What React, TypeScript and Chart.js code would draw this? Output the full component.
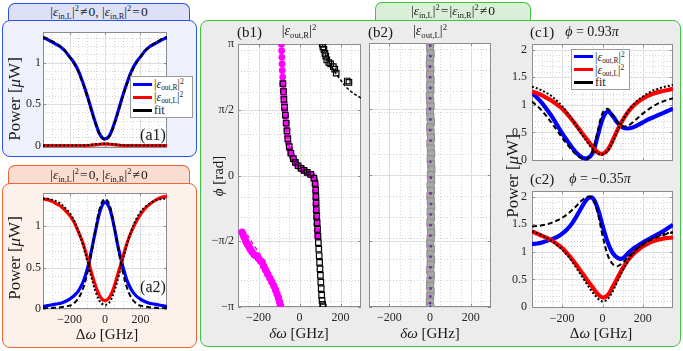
import React, { useEffect, useRef } from "react";
import { Chart, registerables } from "chart.js";
Chart.register(...registerables);

const SERIF = "'Liberation Serif', 'Times New Roman', serif";

// ---------- data ----------
const DW = [-350, -325, -300, -275, -250, -225, -200, -175, -150, -125, -100, -75, -50, -25, 0, 25, 50, 75, 100, 125, 150, 175, 200, 225, 250, 275, 300, 325, 350];

const A1_OUT_R = [1.30, 1.28, 1.25, 1.22, 1.19, 1.14, 1.07, 1.00, 0.90, 0.76, 0.60, 0.42, 0.25, 0.12, 0.08, 0.12, 0.25, 0.42, 0.60, 0.76, 0.90, 1.00, 1.07, 1.14, 1.19, 1.22, 1.25, 1.28, 1.30];
const A1_OUT_L = [0, 0, 0, 0, 0, 0, 0, 0, 0, 0, 0, 0.005, 0.01, 0.015, 0.02, 0.015, 0.01, 0.005, 0, 0, 0, 0, 0, 0, 0, 0, 0, 0, 0];
const A1_FIT_R = [1.31, 1.29, 1.26, 1.23, 1.19, 1.14, 1.07, 0.99, 0.89, 0.75, 0.59, 0.41, 0.24, 0.11, 0.07, 0.11, 0.24, 0.41, 0.59, 0.75, 0.89, 0.99, 1.07, 1.14, 1.19, 1.23, 1.26, 1.29, 1.31];
const A1_FIT_L = [0, 0, 0, 0, 0, 0, 0, 0, 0, 0, 0.005, 0.01, 0.015, 0.02, 0.02, 0.02, 0.015, 0.01, 0.005, 0, 0, 0, 0, 0, 0, 0, 0, 0, 0];

const A2_OUT_R = [0.03, 0.04, 0.05, 0.06, 0.07, 0.09, 0.12, 0.16, 0.22, 0.32, 0.48, 0.72, 0.98, 1.20, 1.29, 1.22, 1.01, 0.74, 0.52, 0.34, 0.23, 0.16, 0.12, 0.09, 0.07, 0.06, 0.05, 0.04, 0.03];
const A2_OUT_L = [1.33, 1.32, 1.30, 1.27, 1.24, 1.19, 1.13, 1.05, 0.93, 0.80, 0.62, 0.43, 0.26, 0.14, 0.10, 0.14, 0.26, 0.44, 0.62, 0.80, 0.94, 1.05, 1.14, 1.21, 1.26, 1.30, 1.33, 1.35, 1.36];
const A2_FIT_R = [0.01, 0.01, 0.01, 0.02, 0.02, 0.03, 0.04, 0.07, 0.13, 0.24, 0.43, 0.70, 1.00, 1.25, 1.33, 1.26, 1.02, 0.72, 0.45, 0.25, 0.13, 0.07, 0.04, 0.03, 0.02, 0.02, 0.01, 0.01, 0.01];
const A2_FIT_L = [1.33, 1.33, 1.32, 1.30, 1.27, 1.22, 1.16, 1.07, 0.94, 0.78, 0.58, 0.37, 0.19, 0.08, 0.05, 0.08, 0.20, 0.38, 0.59, 0.79, 0.95, 1.08, 1.17, 1.23, 1.27, 1.30, 1.32, 1.33, 1.33];

const C1_OUT_R = [1.22, 1.13, 1.03, 0.91, 0.78, 0.63, 0.48, 0.35, 0.22, 0.11, 0.04, 0.03, 0.12, 0.42, 0.74, 0.88, 0.80, 0.67, 0.59, 0.57, 0.59, 0.63, 0.68, 0.73, 0.77, 0.81, 0.85, 0.89, 0.93];
const C1_OUT_L = [1.24, 1.21, 1.17, 1.12, 1.07, 1.00, 0.93, 0.83, 0.72, 0.60, 0.48, 0.36, 0.24, 0.14, 0.11, 0.18, 0.35, 0.55, 0.72, 0.86, 0.97, 1.05, 1.11, 1.16, 1.20, 1.23, 1.25, 1.27, 1.29];
const C1_FIT_R = [1.06, 0.98, 0.89, 0.78, 0.66, 0.53, 0.40, 0.28, 0.17, 0.08, 0.02, 0.02, 0.15, 0.50, 0.85, 0.93, 0.82, 0.68, 0.61, 0.62, 0.68, 0.76, 0.84, 0.91, 0.97, 1.02, 1.06, 1.09, 1.12];
const C1_FIT_L = [1.33, 1.30, 1.26, 1.21, 1.15, 1.07, 0.97, 0.86, 0.73, 0.59, 0.45, 0.32, 0.20, 0.12, 0.10, 0.16, 0.32, 0.53, 0.72, 0.87, 0.99, 1.08, 1.15, 1.21, 1.26, 1.29, 1.32, 1.34, 1.36];

const C2_OUT_R = [1.14, 1.15, 1.17, 1.20, 1.23, 1.27, 1.33, 1.41, 1.52, 1.67, 1.83, 1.96, 1.98, 1.80, 1.48, 1.18, 0.98, 0.89, 0.88, 0.97, 1.05, 1.11, 1.17, 1.22, 1.27, 1.32, 1.37, 1.43, 1.49];
const C2_OUT_L = [1.37, 1.33, 1.29, 1.25, 1.20, 1.14, 1.07, 0.97, 0.86, 0.74, 0.61, 0.48, 0.36, 0.24, 0.17, 0.21, 0.36, 0.53, 0.70, 0.84, 0.95, 1.03, 1.10, 1.15, 1.19, 1.22, 1.24, 1.25, 1.26];
const C2_FIT_R = [1.46, 1.47, 1.48, 1.50, 1.53, 1.57, 1.62, 1.68, 1.76, 1.85, 1.94, 2.00, 1.97, 1.72, 1.30, 0.95, 0.78, 0.74, 0.80, 0.90, 0.99, 1.07, 1.13, 1.19, 1.23, 1.27, 1.30, 1.33, 1.35];
const C2_FIT_L = [1.37, 1.34, 1.30, 1.25, 1.19, 1.12, 1.04, 0.94, 0.82, 0.68, 0.54, 0.40, 0.27, 0.16, 0.10, 0.14, 0.28, 0.47, 0.66, 0.82, 0.96, 1.06, 1.14, 1.20, 1.25, 1.29, 1.32, 1.34, 1.36];

// phase in units of pi
const B1_MAG_PHI = [1.00, 0.95, 0.90, 0.85, 0.80, 0.75, 0.70, 0.65, 0.60, 0.55, 0.50, 0.45, 0.40, 0.35, 0.30, 0.25, 0.20, 0.17, 0.14, 0.12, 0.10, 0.08, 0.065, 0.05, 0.035, 0.02, 0.01, 0.00, -0.03, -0.07, -0.12, -0.17, -0.22, -0.27, -0.32, -0.37, -0.42, -0.46];
const B1_MAG_DW = [-88, -87, -86, -85, -84, -82, -81, -79, -77, -74, -72, -68, -65, -62, -59, -55, -48, -42, -35, -28, -20, -10, 0, 12, 25, 38, 50, 62, 74, 77, 79, 80, 80, 81, 82, 84, 86, 88];
const B1_SQ_PHI = [0.70, 0.64, 0.58, 0.52, 0.46, 0.40, 0.34, 0.28, 0.22, 0.17, 0.13, 0.10, 0.075, 0.055, 0.04, 0.025, 0.01, -0.02, -0.06, -0.11, -0.16, -0.21, -0.26, -0.31, -0.36, -0.41, -0.46, -0.51, -0.56, -0.61, -0.66, -0.71, -0.76, -0.81, -0.86, -0.91, -0.95, -0.98, -1.00];
const B1_SQ_DW = [-81, -78, -76, -73, -69, -65, -61, -57, -50, -42, -30, -20, -7, 8, 22, 38, 55, 70, 76, 79, 80, 81, 82, 84, 86, 88, 90, 92, 94, 96, 98, 100, 102, 104, 106, 108, 110, 113, 116];
const B1_SQ2_DW = [111, 114, 119, 124, 128, 133, 143, 152, 165, 172, 179, 233, 241];
const B1_SQ2_PHI = [1.00, 0.98, 0.96, 0.93, 0.91, 0.88, 0.86, 0.85, 0.83, 0.81, 0.78, 0.72, 0.71];
const B1_FITK_DW = [111, 118, 125, 135, 145, 160, 176, 200, 224, 260, 300];
const B1_FITK_PHI = [1.00, 0.96, 0.93, 0.89, 0.86, 0.82, 0.78, 0.73, 0.68, 0.63, 0.59];
const B1_MAG2_DW = [-280, -275, -270, -262, -255, -247, -240, -232, -222, -212, -200, -190, -182, -175, -165, -155, -145, -135, -125, -117, -110, -103, -98, -93];
const B1_MAG2_PHI = [-0.43, -0.45, -0.47, -0.50, -0.52, -0.54, -0.56, -0.58, -0.60, -0.61, -0.63, -0.65, -0.66, -0.69, -0.72, -0.75, -0.78, -0.81, -0.84, -0.87, -0.90, -0.93, -0.96, -0.99];
const B1_FITM_DW = [-255, -235, -210, -185, -160, -140, -125, -117];
const B1_FITM_PHI = [-0.45, -0.50, -0.56, -0.62, -0.69, -0.75, -0.80, -0.82];

const B2_DW = [2, 0, 3, 1, -1, 2, 0, 3, 1, 2, -1, 1, 3, 0, 2, 4, 1, 3, 5, 2, 4, 6, 3, 5, 7, 4, 6, 3, 5, 2, 4, 6, 3, 5, 2, 4, 6, 3, 1, 4, 2, 5, 3, 1, 4, 2, 0, 3, 1, -1, 2];
const B2_PHI = [1.00, 0.96, 0.92, 0.88, 0.84, 0.80, 0.76, 0.72, 0.68, 0.64, 0.60, 0.56, 0.52, 0.48, 0.44, 0.40, 0.36, 0.32, 0.28, 0.24, 0.20, 0.16, 0.12, 0.08, 0.04, 0.00, -0.04, -0.08, -0.12, -0.16, -0.20, -0.24, -0.28, -0.32, -0.36, -0.40, -0.44, -0.48, -0.52, -0.56, -0.60, -0.64, -0.68, -0.72, -0.76, -0.80, -0.84, -0.88, -0.92, -0.96, -1.00];
const B2_PU_DW = [1, 2, 0, 1, 2, 1, 0, 2, 1, 3, 2, 4, 3, 5, 4, 3, 2, 4, 3, 2, 1, 3, 2, 0, 2];
const B2_PU_PHI = [0.98, 0.90, 0.82, 0.74, 0.66, 0.58, 0.50, 0.42, 0.34, 0.26, 0.10, -0.02, -0.14, -0.22, -0.30, -0.38, -0.46, -0.54, -0.62, -0.70, -0.78, -0.86, -0.92, -0.97, -1.0];

const X_TICKS = [-200, 0, 200];
const P_TICKS = [0, 0.5, 1];
const C_TICKS = [0, 0.5, 1, 1.5, 2];
const PHI_TICKS = [-1, -0.5, 0, 0.5, 1];
const PHI_LABELS = ["−π", "−π/2", "0", "π/2", "π"];

// grid helpers (positions only)
const X_MINOR_A = [-300, -250, -150, -100, -50, 50, 100, 150, 250, 300];
const X_MINOR_B = [-250, -150, -100, -50, 50, 100, 150, 250];
const Y_MINOR_P = [0.1, 0.2, 0.3, 0.4, 0.6, 0.7, 0.8, 0.9, 1.1, 1.2, 1.3];
const Y_MINOR_C = [0.1, 0.2, 0.3, 0.4, 0.6, 0.7, 0.8, 0.9, 1.1, 1.2, 1.3, 1.4, 1.6, 1.7, 1.8, 1.9];
const Y_MINOR_PHI = [-6, -5, -4, -3, -2, -1, 1, 2, 3, 4, 5, 6].map((k) => (k * 0.5) / Math.PI);

// ---------- helpers ----------
const pts = (xs: number[], ys: number[]) => xs.map((x, i) => ({ x, y: ys[i] }));
const line = (xs: number[], ys: number[], color: string, width: number, dash: number[] = []) => ({
  data: pts(xs, ys),
  showLine: true,
  borderColor: color,
  backgroundColor: color,
  borderWidth: width,
  borderDash: dash,
  pointRadius: 0,
  tension: 0.35,
  fill: false,
});
const dots = (xs: number[], ys: number[], style: string, r: number, fillC: string, edge: string, bw: number) => ({
  data: pts(xs, ys),
  showLine: false,
  pointStyle: style,
  pointRadius: r,
  backgroundColor: fillC,
  borderColor: edge,
  borderWidth: bw,
});
const fmt = (v: number) => (v < 0 ? "−" + String(Math.abs(v)) : String(v));

type Spec = {
  l: number; t: number; w: number; h: number;
  xMin: number; xMax: number; yMin: number; yMax: number;
  xMajor: number[]; xMinor: number[]; yMajor: number[]; yMinor: number[];
  showX: boolean; showY: boolean; yPad: number;
  yLabel?: (v: number) => string;
  datasets: any[];
};

const YW = 42, XH = 24, PT = 10, PR = 12;

function Plot({ spec }: { spec: Spec }) {
  const ref = useRef<HTMLCanvasElement>(null);
  const cw = spec.w + YW + PR;
  const ch = spec.h + PT + XH;
  useEffect(() => {
    const frame = {
      id: "frame",
      beforeDatasetsDraw(chart: any) {
        const { ctx, chartArea: a, scales } = chart;
        const xs = scales.x, ys = scales.y;
        ctx.save();
        ctx.fillStyle = "#ffffff";
        ctx.fillRect(a.left, a.top, a.right - a.left, a.bottom - a.top);
        ctx.lineWidth = 1;
        ctx.strokeStyle = "#d2d2d2";
        ctx.setLineDash([1, 2]);
        ctx.beginPath();
        for (const v of spec.xMinor) { const p = Math.round(xs.getPixelForValue(v)) + 0.5; ctx.moveTo(p, a.top); ctx.lineTo(p, a.bottom); }
        for (const v of spec.yMinor) { const p = Math.round(ys.getPixelForValue(v)) + 0.5; ctx.moveTo(a.left, p); ctx.lineTo(a.right, p); }
        ctx.stroke();
        ctx.setLineDash([]);
        ctx.strokeStyle = "#dedede";
        ctx.beginPath();
        for (const v of spec.xMajor) { const p = Math.round(xs.getPixelForValue(v)) + 0.5; ctx.moveTo(p, a.top); ctx.lineTo(p, a.bottom); }
        for (const v of spec.yMajor) { const p = Math.round(ys.getPixelForValue(v)) + 0.5; ctx.moveTo(a.left, p); ctx.lineTo(a.right, p); }
        ctx.stroke();
        ctx.strokeStyle = "#8c8c8c";
        ctx.beginPath();
        for (const v of spec.xMajor) { const p = Math.round(xs.getPixelForValue(v)) + 0.5; ctx.moveTo(p, a.bottom); ctx.lineTo(p, a.bottom - 3); ctx.moveTo(p, a.top); ctx.lineTo(p, a.top + 3); }
        for (const v of spec.yMajor) { const p = Math.round(ys.getPixelForValue(v)) + 0.5; ctx.moveTo(a.left, p); ctx.lineTo(a.left + 3, p); ctx.moveTo(a.right, p); ctx.lineTo(a.right - 3, p); }
        ctx.stroke();
        ctx.strokeRect(Math.round(a.left) + 0.5, Math.round(a.top) + 0.5, Math.round(a.right - a.left) - 1, Math.round(a.bottom - a.top) - 1);
        ctx.restore();
      },
    };
    const chart = new Chart(ref.current as HTMLCanvasElement, {
      type: "scatter",
      data: { datasets: spec.datasets },
      options: {
        animation: false,
        responsive: false,
        devicePixelRatio: 1,
        events: [],
        layout: { padding: { top: PT, right: PR, left: 0, bottom: 0 } },
        plugins: { legend: { display: false }, tooltip: { enabled: false } },
        scales: {
          x: {
            type: "linear", min: spec.xMin, max: spec.xMax,
            grid: { display: false, drawTicks: false }, border: { display: false },
            afterBuildTicks: (s: any) => { s.ticks = spec.xMajor.map((v) => ({ value: v })); },
            afterFit: (s: any) => { s.height = XH; },
            ticks: {
              display: spec.showX, padding: 4, maxRotation: 0, autoSkip: false,
              font: { family: SERIF, size: 12 }, color: "#262626",
              callback: (v: any) => fmt(Number(v)),
            },
          },
          y: {
            type: "linear", min: spec.yMin, max: spec.yMax,
            grid: { display: false, drawTicks: false }, border: { display: false },
            afterBuildTicks: (s: any) => { s.ticks = spec.yMajor.map((v) => ({ value: v })); },
            afterFit: (s: any) => { s.width = YW; },
            ticks: {
              display: spec.showY, padding: spec.yPad, autoSkip: false,
              font: { family: SERIF, size: 12 }, color: "#262626",
              callback: (v: any) => (spec.yLabel ? spec.yLabel(Number(v)) : String(v)),
            },
          },
        },
      } as any,
      plugins: [frame],
    });
    return () => chart.destroy();
  }, []);
  return (
    <canvas
      ref={ref}
      width={cw}
      height={ch}
      style={{ position: "absolute", left: spec.l - YW, top: spec.t - PT, width: cw, height: ch }}
    />
  );
}

const BLUE = "#0000ff", RED = "#ff0000", BLACK = "#000000", MAG = "#ff00ff";

const lineSet = (r: number[], l: number[], fr: number[], fl: number[], w: number) => [
  line(DW, fr, BLACK, 2, [5, 3]),
  line(DW, fl, BLACK, 2, [2, 2]),
  line(DW, l, RED, w),
  line(DW, r, BLUE, w),
];

const SPECS: Spec[] = [
  {
    l: 43, t: 32, w: 124, h: 116, xMin: -350, xMax: 350, yMin: -0.03, yMax: 1.37,
    xMajor: X_TICKS, xMinor: X_MINOR_A, yMajor: P_TICKS, yMinor: Y_MINOR_P,
    showX: false, showY: true, yPad: 2,
    datasets: lineSet(A1_OUT_R, A1_OUT_L, A1_FIT_R, A1_FIT_L, 3.2),
  },
  {
    l: 43, t: 193, w: 124, h: 116, xMin: -350, xMax: 350, yMin: 0, yMax: 1.4,
    xMajor: X_TICKS, xMinor: X_MINOR_A, yMajor: P_TICKS, yMinor: Y_MINOR_P,
    showX: true, showY: true, yPad: 2,
    datasets: lineSet(A2_OUT_R, A2_OUT_L, A2_FIT_R, A2_FIT_L, 3.2),
  },
  {
    l: 238, t: 43, w: 123, h: 264, xMin: -300, xMax: 300, yMin: -1, yMax: 1,
    xMajor: X_TICKS, xMinor: X_MINOR_B, yMajor: PHI_TICKS, yMinor: Y_MINOR_PHI,
    showX: true, showY: true, yPad: 4,
    yLabel: (v) => PHI_LABELS[PHI_TICKS.indexOf(v)] ?? "",
    datasets: [
      line(B1_FITK_DW, B1_FITK_PHI, BLACK, 1.5, [3, 2]),
      dots(B1_SQ_DW, B1_SQ_PHI, "rect", 3.9, "rgba(0,0,0,0)", BLACK, 1.2),
      dots(B1_SQ2_DW, B1_SQ2_PHI, "rect", 3.9, "rgba(0,0,0,0)", BLACK, 1.2),
      line(B1_FITM_DW, B1_FITM_PHI, MAG, 1.5, [4, 3]),
      dots(B1_MAG_DW, B1_MAG_PHI, "circle", 3.4, MAG, MAG, 0),
      dots(B1_MAG2_DW, B1_MAG2_PHI, "circle", 3.7, MAG, MAG, 0),
    ],
  },
  {
    l: 369, t: 43, w: 122, h: 264, xMin: -300, xMax: 300, yMin: -1, yMax: 1,
    xMajor: X_TICKS, xMinor: X_MINOR_B, yMajor: PHI_TICKS, yMinor: Y_MINOR_PHI,
    showX: true, showY: false, yPad: 4,
    datasets: [
      dots(B2_PU_DW, B2_PU_PHI, "circle", 1.4, "#7030a0", "#7030a0", 0),
      dots(B2_DW, B2_PHI, "rect", 5, "#a8a8a8", "#8e8e8e", 1),
    ],
  },
  {
    l: 532, t: 42, w: 141, h: 119, xMin: -350, xMax: 350, yMin: -0.02, yMax: 2.1,
    xMajor: X_TICKS, xMinor: X_MINOR_A, yMajor: C_TICKS, yMinor: Y_MINOR_C,
    showX: false, showY: true, yPad: 5,
    datasets: lineSet(C1_OUT_R, C1_OUT_L, C1_FIT_R, C1_FIT_L, 4.2),
  },
  {
    l: 532, t: 189, w: 141, h: 119, xMin: -350, xMax: 350, yMin: -0.02, yMax: 2.1,
    xMajor: X_TICKS, xMinor: X_MINOR_A, yMajor: C_TICKS, yMinor: Y_MINOR_C,
    showX: true, showY: true, yPad: 5,
    datasets: lineSet(C2_OUT_R, C2_OUT_L, C2_FIT_R, C2_FIT_L, 4.2),
  },
];

// ---------- text helpers ----------
const SUB: React.CSSProperties = { fontSize: "0.62em", verticalAlign: "-0.3em", lineHeight: 0 };
const SUP: React.CSSProperties = { fontSize: "0.62em", verticalAlign: "0.6em", lineHeight: 0 };
const Eps = ({ s }: { s: string }) => (
  <span>
    |<i>ε</i>
    <span style={SUB}>{s}</span>|<span style={SUP}>2</span>
  </span>
);

function T({ x, y, size, children, rot, anchor }: { x: number; y: number; size: number; children: any; rot?: boolean; anchor?: "left" | "center" }) {
  const tx = anchor === "left" ? "translate(0,-50%)" : "translate(-50%,-50%)";
  return (
    <div
      style={{
        position: "absolute", left: x, top: y, fontFamily: SERIF, fontSize: size, lineHeight: 1,
        whiteSpace: "nowrap", color: "#1a1a1a", transform: tx + (rot ? " rotate(-90deg)" : ""),
      }}
    >
      {children}
    </div>
  );
}

function Box({ l, t, w, h, border, bg, tab }: { l: number; t: number; w: number; h: number; border: string; bg: string; tab?: boolean }) {
  return (
    <div
      style={{
        position: "absolute", left: l, top: t, width: w, height: h, boxSizing: "border-box",
        border: `1.5px solid ${border}`, borderBottom: tab ? "none" : `1.5px solid ${border}`,
        borderRadius: tab ? "7px 7px 0 0" : 8, background: bg,
      }}
    />
  );
}

function Legend({ l, t, w, h }: { l: number; t: number; w: number; h: number }) {
  const rows = [
    { c: BLUE, label: <Eps s="out,R" /> },
    { c: RED, label: <Eps s="out,L" /> },
    { c: BLACK, label: <span>fit</span> },
  ];
  return (
    <div
      style={{
        position: "absolute", left: l, top: t, width: w, height: h, boxSizing: "border-box",
        background: "#fff", border: "1px solid #9a9a9a", display: "flex", flexDirection: "column",
        justifyContent: "space-evenly", paddingLeft: 2,
      }}
    >
      {rows.map((r, i) => (
        <div key={i} style={{ display: "flex", alignItems: "center", height: 12 }}>
          <div style={{ width: 19, height: 3, background: r.c, marginRight: 2 }} />
          <div style={{ fontFamily: SERIF, fontSize: 12, lineHeight: 1, color: "#1a1a1a" }}>{r.label}</div>
        </div>
      ))}
    </div>
  );
}

export default function App() {
  return (
    <div style={{ position: "fixed", left: 0, top: 0, width: 683, height: 351, background: "#fff", overflow: "hidden" }}>
      {/* frames */}
      <Box l={8} t={3} w={182} h={18} border="#2a52f2" bg="#dee0f7" tab />
      <Box l={2} t={20} w={195} h={137} border="#2a52f2" bg="#eef0fb" />
      <Box l={8} t={165} w={182} h={19} border="#f0643a" bg="#fbdcd1" tab />
      <Box l={2} t={183} w={195} h={165} border="#f0643a" bg="#fdf1eb" />
      <Box l={375} t={2} w={156} h={19} border="#3ec43e" bg="#d9efd7" tab />
      <Box l={200} t={20} w={481} h={327} border="#3ec43e" bg="#ececec" />

      {SPECS.map((s, i) => (
        <Plot key={i} spec={s} />
      ))}

      {/* tab titles */}
      <T x={99} y={12} size={13.5}>
        <Eps s="in,L" />&#8202;≠&#8202;0, <Eps s="in,R" />&#8202;=&#8202;0
      </T>
      <T x={99} y={175} size={13.5}>
        <Eps s="in,L" />&#8202;=&#8202;0, <Eps s="in,R" />&#8202;≠&#8202;0
      </T>
      <T x={453} y={11} size={13.5}>
        <Eps s="in,L" />&#8202;=&#8202;<Eps s="in,R" />&#8202;≠&#8202;0
      </T>

      {/* panel labels */}
      <T x={153} y={135} size={16}>(a1)</T>
      <T x={153} y={287} size={16}>(a2)</T>
      <T x={237} y={32} size={15} anchor="left">(b1)</T>
      <T x={299} y={31} size={14}><Eps s="out,R" /></T>
      <T x={368} y={32} size={15} anchor="left">(b2)</T>
      <T x={430} y={31} size={14}><Eps s="out,L" /></T>
      <T x={530} y={32} size={15} anchor="left">(c1)</T>
      <T x={592} y={32} size={14}><i>ϕ</i> = 0.93<i>π</i></T>
      <T x={530} y={179} size={15} anchor="left">(c2)</T>
      <T x={600} y={179} size={14}><i>ϕ</i> = −0.35<i>π</i></T>

      {/* axis titles */}
      <T x={14} y={99} size={17} rot>Power [<i>μ</i>W]</T>
      <T x={14} y={258} size={17} rot>Power [<i>μ</i>W]</T>
      <T x={512} y={176} size={17} rot>Power [<i>μ</i>W]</T>
      <T x={218} y={176} size={15} rot><i>ϕ</i> [rad]</T>
      <T x={107} y={334} size={15}>Δ<i>ω</i> [GHz]</T>
      <T x={299} y={333} size={15}><i>δω</i> [GHz]</T>
      <T x={430} y={333} size={15}><i>δω</i> [GHz]</T>
      <T x={601} y={333} size={15}>Δ<i>ω</i> [GHz]</T>

      <Legend l={130} t={76} w={63} h={42} />
      <Legend l={571} t={49} w={59} h={41} />
    </div>
  );
}
